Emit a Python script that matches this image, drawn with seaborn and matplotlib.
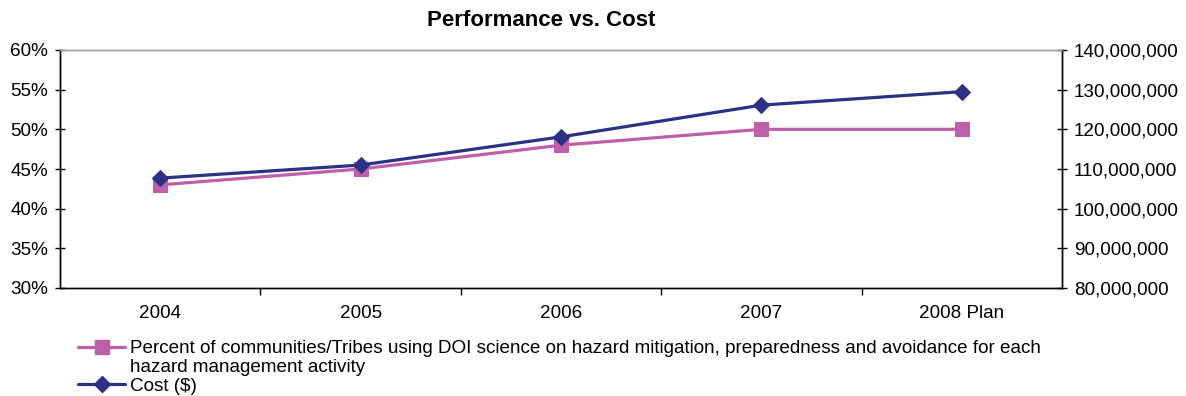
import matplotlib
matplotlib.use("Agg")
import matplotlib.pyplot as plt
import seaborn as sns
import pandas as pd
from matplotlib.lines import Line2D
from matplotlib.ticker import FuncFormatter, FixedLocator

years = ["2004", "2005", "2006", "2007", "2008 Plan"]
percent_using = [43, 45, 48, 50, 50]
cost_dollars = [107_700_000, 111_000_000, 118_100_000, 126_100_000, 129_500_000]

pct_label_lines = ["Percent of communities/Tribes using DOI science on hazard mitigation, "
                   "preparedness and avoidance for each",
                   "hazard management activity"]
cost_label = "Cost ($)"

PINK = "#BD5FA9"
NAVY = "#2C3183"

sns.set_theme(style="white")
plt.rcParams["font.family"] = ["Liberation Sans", "DejaVu Sans"]
plt.rcParams["text.color"] = "black"
FS = 13.6

df = pd.DataFrame({"pos": range(len(years)), "pct": percent_using, "cost": cost_dollars})

fig = plt.figure(figsize=(11.86, 3.96), dpi=100)
ax = fig.add_axes([60 / 1186, 1 - 288 / 396, (1062 - 60) / 1186, (288 - 50) / 396])
ax2 = ax.twinx()

sns.lineplot(data=df, x="pos", y="pct", ax=ax, color=PINK, linewidth=2.3,
             marker="s", markersize=10, markeredgecolor=PINK, legend=False)
sns.lineplot(data=df, x="pos", y="cost", ax=ax2, color=NAVY, linewidth=2.3,
             marker="D", markersize=8, markeredgecolor=NAVY, legend=False)
ax2.set_zorder(ax.get_zorder() + 1)

ax.set_xlim(-0.5, len(years) - 0.5)
ax.set_ylim(30, 60)
ax2.set_ylim(80_000_000, 140_000_000)
ax.set_yticks(range(30, 61, 5))
ax2.set_yticks(range(80_000_000, 140_000_001, 10_000_000))
ax.yaxis.set_major_formatter(FuncFormatter(lambda v, p: f"{v:.0f}%"))
ax2.yaxis.set_major_formatter(FuncFormatter(lambda v, p: f"{v:,.0f}"))

ax.set_xticks(range(len(years)))
ax.set_xticklabels(years)
ax.xaxis.set_minor_locator(FixedLocator([i + 0.5 for i in range(len(years) - 1)]))
ax.tick_params(axis="x", which="major", length=0, labelsize=FS, pad=12, colors="black")
ax.tick_params(axis="x", which="minor", bottom=True, length=5, width=1, direction="out", color="black")
ax.tick_params(axis="y", left=True, length=7, width=1, direction="inout", labelsize=FS, pad=5, colors="black")
ax2.tick_params(axis="y", right=True, length=7, width=1, direction="inout", labelsize=FS, pad=5, colors="black")

ax.set_xlabel("")
ax.set_ylabel("")
ax2.set_ylabel("")
ax.grid(False)
ax2.grid(False)

for a in (ax, ax2):
    for side in ("left", "right", "bottom"):
        a.spines[side].set_color("black")
        a.spines[side].set_linewidth(1.0)
    a.spines["top"].set_color("#a0a0a0")
    a.spines["top"].set_linewidth(1.0)

fig.text(541 / 1186, 1 - 21 / 396, "Performance vs. Cost", ha="center", va="center",
         fontsize=16, fontweight="bold", color="black")

# legend: the wrapped series name gets a blank handle on its second row
pct_handle = Line2D([], [], color=PINK, linewidth=2.3, marker="s", markersize=10)
cost_handle = Line2D([], [], color=NAVY, linewidth=2.3, marker="D", markersize=8)
blank_handle = Line2D([], [], linestyle="none")
leg = fig.legend([pct_handle, blank_handle, cost_handle],
                 [pct_label_lines[0], pct_label_lines[1], cost_label],
                 loc="upper left", bbox_to_anchor=(78 / 1186, 1 - 340 / 396), frameon=False,
                 fontsize=FS, handlelength=2.5, handletextpad=0.25,
                 labelspacing=0.08, borderpad=0, borderaxespad=0)
for t in leg.get_texts():
    t.set_color("black")

fig.savefig("out.png", dpi=100)
